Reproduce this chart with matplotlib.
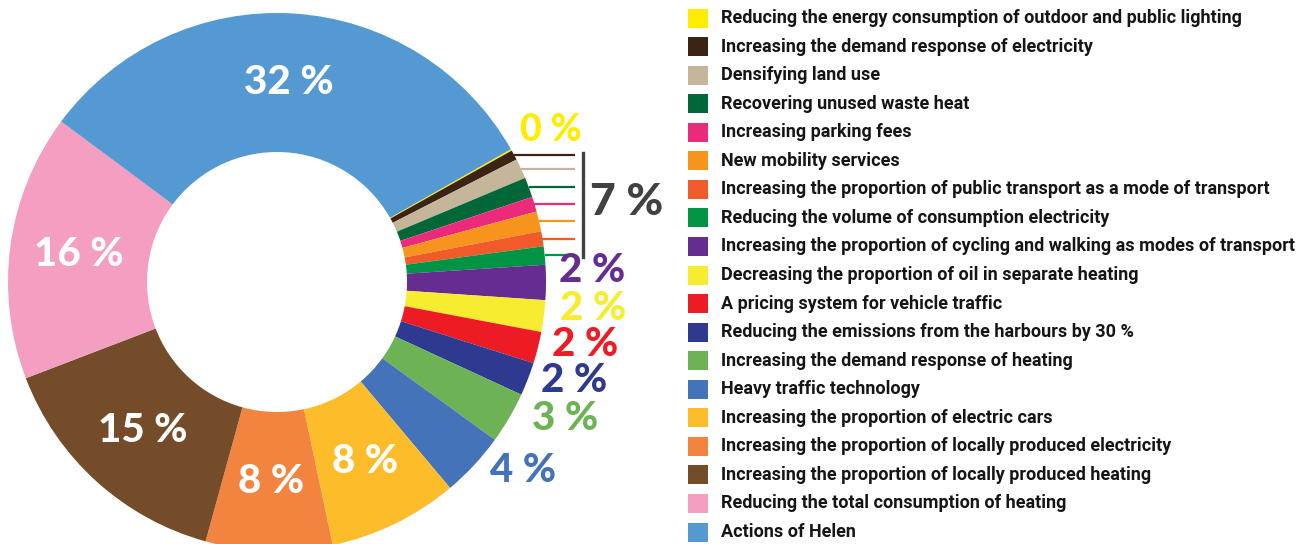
import matplotlib.pyplot as plt
from matplotlib.patches import Rectangle
import numpy as np

# Share of emission reductions by action, in %, clockwise from the top right
labels = [
    "Reducing the energy consumption of outdoor and public lighting",
    "Increasing the demand response of electricity",
    "Densifying land use",
    "Recovering unused waste heat",
    "Increasing parking fees",
    "New mobility services",
    "Increasing the proportion of public transport as a mode of transport",
    "Reducing the volume of consumption electricity",
    "Increasing the proportion of cycling and walking as modes of transport",
    "Decreasing the proportion of oil in separate heating",
    "A pricing system for vehicle traffic",
    "Reducing the emissions from the harbours by 30 %",
    "Increasing the demand response of heating",
    "Heavy traffic technology",
    "Increasing the proportion of electric cars",
    "Increasing the proportion of locally produced electricity",
    "Increasing the proportion of locally produced heating",
    "Reducing the total consumption of heating",
    "Actions of Helen",
]
shares = [0.1, 0.6, 1.2, 1.2, 0.9, 1.2, 0.9, 1.1,
          2.1, 1.9, 1.9, 2.0, 3.1, 3.9, 7.8, 7.6, 14.9, 16.0, 31.6]
colors = ["#FFEC00", "#3C2415", "#C4B59B", "#006838", "#EC2A7B", "#F7941D",
          "#F15A29", "#009444", "#662D91", "#F8EC31", "#ED1C24", "#2E3A8F",
          "#6DB356", "#4473B9", "#FDBD2B", "#F3843F", "#754C29", "#F49EC1",
          "#5599D2"]

inner_idx = [14, 15, 16, 17, 18]          # labelled inside the ring
group_idx = [1, 2, 3, 4, 5, 6, 7]         # small actions summed as one label
# outside labels: index -> (x, y from top, size)
outer_lbl = {0: (551, 130, 27), 8: (592, 271, 29), 9: (593, 308, 29),
             10: (585, 344, 29), 11: (574, 381, 29), 12: (565, 418, 29),
             13: (523, 470, 29)}

W, H = 1314, 544
fig = plt.figure(figsize=(W / 100, H / 100), dpi=100)
ax = fig.add_axes([0, 0, 1, 1])

cx, cy, R, r_in = 277, H - 282, 269, 130
wedges, _ = ax.pie(shares, colors=colors, startangle=29.6, counterclock=False,
                   radius=R, center=(cx, cy),
                   wedgeprops=dict(width=R - r_in, linewidth=0))
ax.set_xlim(0, W)
ax.set_ylim(0, H)
ax.set_aspect("equal")
ax.axis("off")

pct_font = dict(family="Lato", weight="black", ha="center", va="center")

def mid(w):
    return np.deg2rad((w.theta1 + w.theta2) / 2)

for i in inner_idx:
    a = mid(wedges[i])
    ax.text(cx + 200 * np.cos(a), cy + 200 * np.sin(a), f"{round(shares[i])} %",
            color="white", fontsize=29, **pct_font)

for i, (x, y, fs) in outer_lbl.items():
    ax.text(x, H - y, f"{round(shares[i])} %", color=colors[i], fontsize=fs,
            **pct_font)

# leader lines for the small actions and the bracket
ys = []
for i in group_idx:
    a = mid(wedges[i])
    x0, y0 = cx + R * np.cos(a), cy + R * np.sin(a)
    ax.plot([x0, 575], [y0, y0], color=colors[i], lw=1.6, solid_capstyle="butt")
    ys.append(y0)
ax.plot([583, 583], [max(ys) + 2, min(ys) - 2], color="#414042", lw=2.4)
group_total = sum(shares[i] for i in group_idx)
ax.text(627, H - 202, f"{round(group_total)} %", color="#414042", fontsize=32,
        **pct_font)

# legend
step = (532 - 18) / (len(labels) - 1)
for k, (lab, c) in enumerate(zip(labels, colors)):
    y = H - (18 + k * step)
    ax.add_patch(Rectangle((688, y - 9.5), 20, 19, color=c, lw=0))
    ax.text(721, y, lab, fontsize=13, family="Roboto", weight="bold",
            color="#151515", ha="left", va="center")

fig.savefig("out.png", dpi=100)
